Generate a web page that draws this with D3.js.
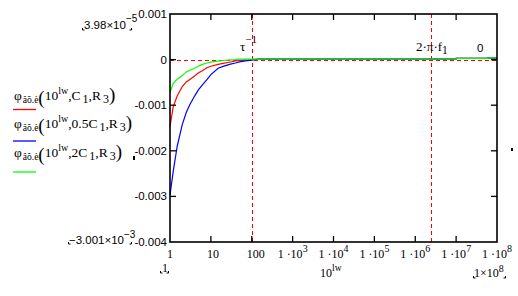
<!DOCTYPE html>
<html><head><meta charset="utf-8">
<script src="https://cdn.jsdelivr.net/npm/d3@7"></script>
<style>
body{margin:0;background:#fff;}
svg{display:block;}
text{fill:#000;}
</style></head>
<body>
<svg id="c" width="518" height="296"></svg>
<script>
// ---- data ----
const freqs   = [1, 1.2, 1.5, 2, 2.5, 3, 4, 5, 6, 8, 10, 15, 20, 30, 40, 50, 70, 100];
const phiC1   = [-1.47e-3,-1.03e-3,-0.80e-3,-0.59e-3,-0.49e-3,-0.44e-3,-0.36e-3,-0.29e-3,-0.25e-3,-0.18e-3,-0.145e-3,-0.105e-3,-0.083e-3,-0.053e-3,-0.03e-3,-0.02e-3,-0.01e-3,0];
const phiHalf = [-2.97e-3,-2.45e-3,-1.90e-3,-1.42e-3,-1.16e-3,-1.00e-3,-0.80e-3,-0.66e-3,-0.57e-3,-0.44e-3,-0.33e-3,-0.19e-3,-0.15e-3,-0.10e-3,-0.075e-3,-0.05e-3,-0.03e-3,-0.01e-3];
const phi2C1  = [-0.72e-3,-0.52e-3,-0.43e-3,-0.35e-3,-0.27e-3,-0.24e-3,-0.19e-3,-0.14e-3,-0.11e-3,-0.075e-3,-0.057e-3,-0.033e-3,-0.02e-3,-0.008e-3,0,1.2e-5,1.2e-5,1.2e-5];
const tailFreqs  = [150, 1e3, 9.9e6, 1e7, 6e7, 6.01e7, 1e8];
const tailValues = [1.2e-5, 1.2e-5, 1.2e-5, 2.5e-5, 2.5e-5, 3.98e-5, 3.98e-5];
const xTickValues = [1,10,100,1e3,1e4,1e5,1e6,1e7,1e8];
const xTickBase   = ["1","10","100","1 ·10","1 ·10","1 ·10","1 ·10","1 ·10","1 ·10"];
const xTickExp    = ["","","","3","4","5","6","7","8"];
const yTickValues = [0.001, 0, -0.001, -0.002, -0.003, -0.004];
const yTickLabels = ["0.001","0","-0.001","-0.002","-0.003","-0.004"];
const tauInv = 100;
const twoPiF1 = 2.4e6;
const seriesNames = ["C 1","0.5C 1","2C 1"];
const seriesColors = ["#ff0000","#0000ff","#00ff00"];

// ---- scales ----
const svg = d3.select("#c");
const L=170, R=497, T=14, B=242;
const x = d3.scaleLog().domain([1,1e8]).range([L,R]);
const y = d3.scaleLinear().domain([-0.004,0.001]).range([B,T]);

// reference lines
const g = svg.append("g");
const y0 = Math.round(y(0))+0.5;
g.append("line").attr("x1",L).attr("x2",R).attr("y1",y0).attr("y2",y0)
 .attr("stroke","#ff0000").attr("stroke-dasharray","4,3");
[tauInv, twoPiF1].forEach(v=>{
  const xx = Math.round(x(v))+0.5;
  g.append("line").attr("x1",xx).attr("x2",xx).attr("y1",T).attr("y2",B)
   .attr("stroke","#ff0000").attr("stroke-dasharray","4,3");
});

// curves
const line = d3.line().x(d=>x(d[0])).y(d=>y(d[1]));
[phiC1, phiHalf, phi2C1].forEach((vals,i)=>{
  const pts = freqs.map((f,j)=>[f,vals[j]]).concat(tailFreqs.map((f,j)=>[f,tailValues[j]]));
  svg.append("path").datum(pts).attr("d",line).attr("fill","none")
    .attr("stroke",seriesColors[i]).attr("stroke-width",1.2);
});

// frame
svg.append("rect").attr("x",L).attr("y",T).attr("width",R-L).attr("height",B-T)
  .attr("fill","none").attr("stroke","#000").attr("stroke-width",1.6);

// ticks
const tl = 6;
xTickValues.slice(1,-1).forEach(v=>{
  const xx = x(v);
  svg.append("line").attr("x1",xx).attr("x2",xx).attr("y1",B).attr("y2",B-tl).attr("stroke","#000").attr("stroke-width",1.3);
  svg.append("line").attr("x1",xx).attr("x2",xx).attr("y1",T).attr("y2",T+tl).attr("stroke","#000").attr("stroke-width",1.3);
});
yTickValues.slice(1,-1).forEach(v=>{
  const yy = y(v);
  svg.append("line").attr("x1",L).attr("x2",L+tl).attr("y1",yy).attr("y2",yy).attr("stroke","#000").attr("stroke-width",1.3);
  svg.append("line").attr("x1",R).attr("x2",R-tl).attr("y1",yy).attr("y2",yy).attr("stroke","#000").attr("stroke-width",1.3);
});

// y labels
const sans = "Liberation Sans, Arial, sans-serif";
const serif = "Liberation Serif, Times New Roman, serif";
yTickValues.forEach((v,i)=>{
  svg.append("text").attr("x",L-3).attr("y",y(v)+4).attr("text-anchor","end")
   .attr("font-family",sans).attr("font-size",11.5).text(yTickLabels[i]);
});
// x labels
xTickValues.forEach((v,i)=>{
  const t = svg.append("text").attr("x",x(v)+(i===1?2:i===2?4:0)).attr("y",258).attr("text-anchor","middle")
   .attr("font-family",serif).attr("font-size",12);
  t.append("tspan").text(xTickBase[i]);
  if (xTickExp[i]) t.append("tspan").attr("dy",-6).attr("font-size",10).text(xTickExp[i]);
});

// legend
const legY = [100,128,157], legLineY = [109.5,141,172];
seriesNames.forEach((nm,i)=>{
  const t = svg.append("text").attr("x",14).attr("y",legY[i]).attr("font-family",serif).attr("font-size",13.5);
  t.append("tspan").text("φ");
  t.append("tspan").attr("dx",1).attr("dy",3).attr("font-size",9.5).text("âõ.è");
  t.append("tspan").attr("dy",1).attr("font-size",19).text("(");
  t.append("tspan").attr("dy",-1-3).text("10");
  t.append("tspan").attr("dy",-6).attr("font-size",10).text("lw");
  t.append("tspan").attr("dy",6).text(","+nm.split(" ")[0]);
  t.append("tspan").attr("dy",3).attr("dx",2).attr("font-size",12).text("1");
  t.append("tspan").attr("dy",-3).text(",R");
  t.append("tspan").attr("dy",3).attr("dx",2).attr("font-size",12).text("3");
  t.append("tspan").attr("dy",-2).attr("font-size",19).text(")");
  svg.append("line").attr("x1",13).attr("x2",36).attr("y1",legLineY[i]).attr("y2",legLineY[i])
    .attr("stroke",seriesColors[i]).attr("stroke-width",1.3);
});

// annotations on plot
const a1 = svg.append("text").attr("x",240).attr("y",51).attr("font-family",serif).attr("font-size",13);
a1.append("tspan").text("τ");
a1.append("tspan").attr("dy",-8).attr("font-size",11).text("−1");
const a2 = svg.append("text").attr("x",416).attr("y",51).attr("font-family",serif).attr("font-size",13);
a2.append("tspan").text("2·π·f");
a2.append("tspan").attr("dy",3).attr("font-size",11.5).text("1");
svg.append("text").attr("x",477).attr("y",52).attr("font-family",sans).attr("font-size",11.5).text("0");

// limit labels
function mark(x0,y0,dir){ // small corner marker
  svg.append("path").attr("d",`M${x0},${y0-2}V${y0}H${x0+2*dir}`).attr("stroke","#000").attr("fill","none").attr("stroke-width",1);
}
const l1 = svg.append("text").attr("x",84).attr("y",29).attr("font-family",sans).attr("font-size",11.5);
l1.append("tspan").text("3.98×10");
l1.append("tspan").attr("dy",-7).attr("font-size",10).text("−5");
mark(82.5,30,1); mark(131.5,30,-1);
const l2 = svg.append("text").attr("x",69).attr("y",244).attr("font-family",sans).attr("font-size",11.5);
l2.append("tspan").text("−3.001×10");
l2.append("tspan").attr("dy",-6).attr("font-size",10).text("−3");
mark(68.5,244,1); mark(131.5,244,-1);
svg.append("text").attr("x",162).attr("y",272).attr("font-family",serif).attr("font-size",12).text("1");
mark(160.5,273,1); mark(168.5,273,-1);
const l3 = svg.append("text").attr("x",320).attr("y",277).attr("font-family",serif).attr("font-size",12);
l3.append("tspan").text("10");
l3.append("tspan").attr("dy",-6).attr("font-size",9.5).text("lw");
const l4 = svg.append("text").attr("x",474).attr("y",277).attr("font-family",serif).attr("font-size",12);
l4.append("tspan").text("1×10");
l4.append("tspan").attr("dy",-5).attr("font-size",10).text("8");
mark(473.5,278,1); mark(505.5,278,-1);

// stray marks
svg.append("rect").attr("x",133).attr("y",156).attr("width",2).attr("height",4).attr("fill","#000");
svg.append("rect").attr("x",511).attr("y",148).attr("width",2).attr("height",3).attr("fill","#000");
</script>
</body></html>
